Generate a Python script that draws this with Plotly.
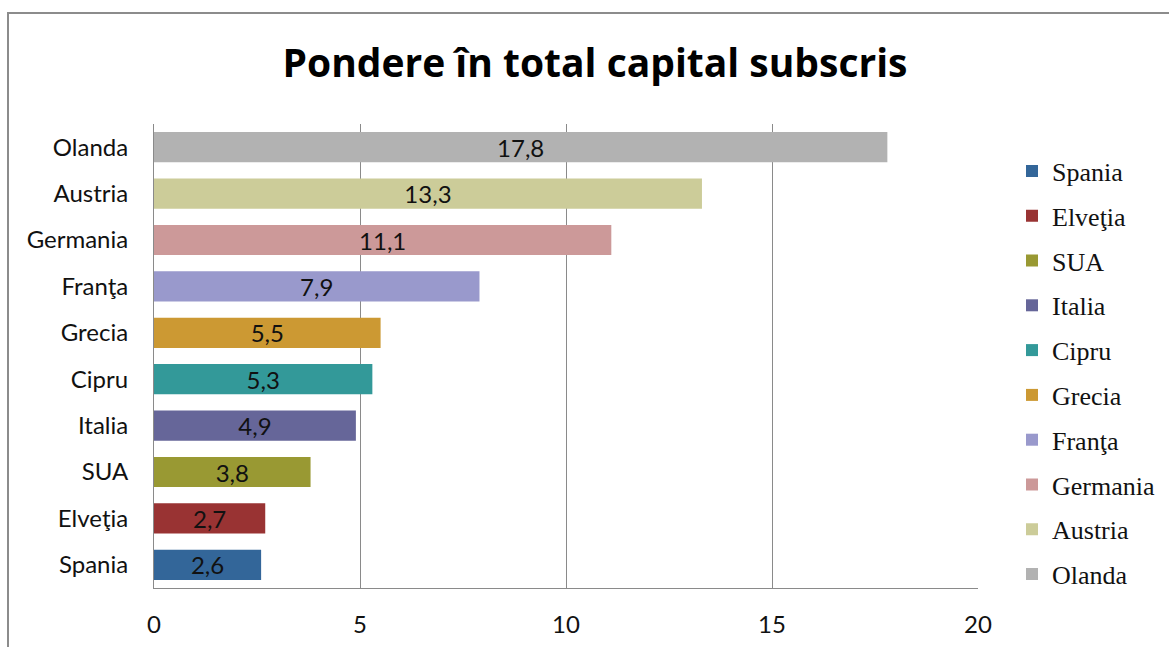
import plotly.graph_objects as go

# Share of subscribed capital by country (percent)
countries = ["Spania", "Elveţia", "SUA", "Italia", "Cipru",
             "Grecia", "Franţa", "Germania", "Austria", "Olanda"]
values = [2.6, 2.7, 3.8, 4.9, 5.3, 5.5, 7.9, 11.1, 13.3, 17.8]
colors = ["#336699", "#993333", "#999933", "#666699", "#339999",
          "#CC9933", "#9999CC", "#CC9999", "#CCCC99", "#B2B2B2"]
x_ticks = [0, 5, 10, 15, 20]

W, H = 1169, 647
L, R, T, B = 154, 191, 124, 59
pw, ph = W - L - R, H - T - B


def px_x(p):
    return (p - L) / pw


def px_y(p):
    return (H - B - p) / ph


fig = go.Figure()
for name, val, col in zip(countries, values, colors):
    fig.add_trace(go.Bar(
        y=[name], x=[val], name=name, orientation="h",
        marker=dict(color=col, line=dict(width=0)),
        width=0.65,
        text=[f"{val:.1f}".replace(".", ",")],
        textposition="inside", insidetextanchor="middle",
        textfont=dict(family="Lato", size=24, color="#111111"),
        legendgroup=name,
        hoverinfo="x+y",
    ))

fig.update_layout(
    width=W, height=H,
    margin=dict(l=L, r=R, t=T, b=B, autoexpand=False),
    paper_bgcolor="white", plot_bgcolor="white",
    barmode="overlay",
    showlegend=True,
    uniformtext=dict(minsize=24, mode="show"),
    title=dict(
        text="<b>Pondere în total capital subscris</b>",
        font=dict(family="Open Sans", size=39, color="#000000"),
        x=px_x(595), xref="paper", xanchor="center",
        y=1 - 63 / H, yanchor="middle",
    ),
    legend=dict(
        font=dict(family="Liberation Serif", size=26, color="#111111"),
        traceorder="grouped", tracegroupgap=8,
        x=px_x(1012), xanchor="left",
        y=px_y(373), yanchor="middle",
        bgcolor="rgba(0,0,0,0)",
    ),
    xaxis=dict(
        range=[0, 20], tickvals=x_ticks, ticktext=[str(t) for t in x_ticks],
        showgrid=True, gridcolor="#8A8A8A", gridwidth=1,
        zeroline=False, showline=True, linecolor="#8A8A8A", linewidth=1,
        ticks="", ticklabelstandoff=15,
        tickfont=dict(family="Lato", size=24, color="#111111"),
        fixedrange=True,
    ),
    yaxis=dict(
        categoryorder="array", categoryarray=countries,
        showgrid=False, zeroline=False,
        showline=True, linecolor="#8A8A8A", linewidth=1,
        ticks="", ticklabelstandoff=20,
        tickfont=dict(family="Lato", size=24, color="#111111"),
        fixedrange=True,
    ),
    shapes=[dict(
        type="rect", xref="paper", yref="paper",
        x0=px_x(8), x1=px_x(1185), y0=px_y(665), y1=px_y(13),
        line=dict(color="#8C8C8C", width=2), fillcolor="rgba(0,0,0,0)",
        layer="below",
    )],
)

fig.write_html("out.html")
